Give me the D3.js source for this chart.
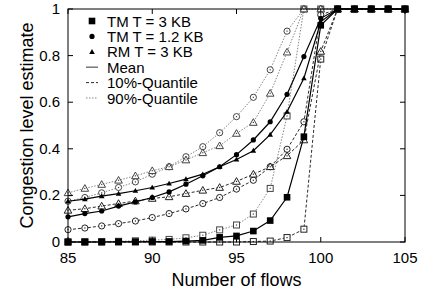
<!DOCTYPE html>
<html lang="en">
<head>
  <meta charset="UTF-8">
  <title>Congestion level estimate</title>
  <script src="https://cdnjs.cloudflare.com/ajax/libs/d3/7.6.1/d3.min.js"></script>
  <style>
    body { margin: 0; background: #fff; }
    svg text { font-family: "Liberation Sans", Arial, sans-serif; fill: #000; }
    .tick-label { font-size: 15px; }
    .title { font-size: 18px; }
    .legend text { font-size: 15px; }
  </style>
</head>
<body>
<div id="wrapper"></div>
<script>
// x values (number of flows)
const flows = [85,86,87,88,89,90,91,92,93,94,95,96,97,98,99,100,101,102,103,104,105];
const xTicks = [85, 90, 95, 100, 105];
const yTicks = [0, 0.2, 0.4, 0.6, 0.8, 1];

// TM T = 3 KB
const tm3Mean = [0,0,0,0.001,0.001,0.002,0.002,0.004,0.007,0.02,0.026,0.047,0.092,0.192,0.452,0.93,1,1,1,1,1];
const tm3Q10  = [0,0,0,0,0,0,0,0,0,0,0,0.002,0.004,0.019,0.055,0.785,1,1,1,1,1];
const tm3Q90  = [0,0.001,0.002,0.003,0.005,0.008,0.011,0.018,0.029,0.052,0.073,0.12,0.23,0.541,1,1,1,1,1,1,1];
// TM T = 1.2 KB
const tm12Mean = [0.108,0.122,0.133,0.154,0.172,0.191,0.215,0.248,0.284,0.323,0.375,0.438,0.516,0.634,0.796,0.96,1,1,1,1,1];
const tm12Q10  = [0.053,0.06,0.069,0.079,0.09,0.105,0.122,0.142,0.165,0.191,0.227,0.265,0.323,0.398,0.516,0.975,1,1,1,1,1];
const tm12Q90  = [0.175,0.191,0.211,0.234,0.258,0.291,0.323,0.366,0.409,0.469,0.538,0.621,0.739,0.905,1,1,1,1,1,1,1];
// RM T = 3 KB
const rm3Mean = [0.175,0.184,0.197,0.208,0.22,0.234,0.251,0.27,0.291,0.323,0.354,0.392,0.461,0.559,0.703,0.945,1,1,1,1,1];
const rm3Q10  = [0.136,0.143,0.154,0.165,0.176,0.187,0.194,0.208,0.222,0.234,0.26,0.291,0.323,0.37,0.438,0.818,1,1,1,1,1];
const rm3Q90  = [0.211,0.23,0.247,0.265,0.284,0.306,0.323,0.352,0.383,0.413,0.466,0.513,0.638,0.815,1,1,1,1,1,1,1];

const legendConfigs = ["TM T = 3 KB", "TM T = 1.2 KB", "RM T = 3 KB"];
const legendStats = ["Mean", "10%-Quantile", "90%-Quantile"];

const W = 421, H = 295;
const margin = {top: 9, right: 16, bottom: 53, left: 68};

const svg = d3.select("#wrapper").append("svg")
  .attr("width", W).attr("height", H);

const x = d3.scaleLinear().domain([85, 105]).range([margin.left, W - margin.right]);
const y = d3.scaleLinear().domain([0, 1]).range([H - margin.bottom, margin.top]);

const lineStyles = {
  mean: {stroke: "#000", width: 1.2, dash: null},
  q10:  {stroke: "#111", width: 0.9, dash: "3,2"},
  q90:  {stroke: "#666", width: 0.8, dash: "1.5,1.5"}
};

const series = [
  {vals: tm3Q90, shape: "square", stat: "q90"},
  {vals: tm12Q90, shape: "circle", stat: "q90"},
  {vals: rm3Q90, shape: "triangle", stat: "q90"},
  {vals: tm3Q10, shape: "square", stat: "q10"},
  {vals: tm12Q10, shape: "circle", stat: "q10"},
  {vals: rm3Q10, shape: "triangle", stat: "q10"},
  {vals: rm3Mean, shape: "triangle", stat: "mean"},
  {vals: tm12Mean, shape: "circle", stat: "mean"},
  {vals: tm3Mean, shape: "square", stat: "mean"}
];

function drawMarker(g, shape, cx, cy, filled, color) {
  let m;
  if (shape === "square") {
    const s = filled ? 6.6 : 6;
    m = g.append("rect").attr("x", cx - s/2).attr("y", cy - s/2).attr("width", s).attr("height", s);
  } else if (shape === "circle") {
    const r = filled ? 2.6 : 3.1;
    m = g.append("circle").attr("cx", cx).attr("cy", cy).attr("r", r);
  } else {
    const s = filled ? 2.8 : 3.8;
    m = g.append("path").attr("d", `M${cx},${cy - s}L${cx + s},${cy + s*0.75}L${cx - s},${cy + s*0.75}Z`);
  }
  if (filled) {
    m.attr("fill", "#000").attr("stroke", "none");
  } else {
    m.attr("fill", "#fff").attr("stroke", color).attr("stroke-width", 1);
    g.append("rect").attr("x", cx - 0.6).attr("y", cy - 0.6).attr("width", 1.2).attr("height", 1.2)
      .attr("fill", color);
  }
}

const plot = svg.append("g");
const line = d3.line().x((d, i) => x(flows[i])).y(d => y(d));

series.forEach(s => {
  const st = lineStyles[s.stat];
  const g = plot.append("g");
  g.append("path").datum(s.vals)
    .attr("d", line)
    .attr("fill", "none")
    .attr("stroke", st.stroke)
    .attr("stroke-width", st.width)
    .attr("stroke-dasharray", st.dash);
  s.vals.forEach((v, i) => {
    drawMarker(g, s.shape, x(flows[i]), y(v), s.stat === "mean", s.stat === "q90" ? "#444" : "#222");
  });
});

// frame and inward ticks (mirrored)
const x0 = x.range()[0], x1 = x.range()[1], y0 = y.range()[0], y1 = y.range()[1];
svg.append("rect").attr("x", x0).attr("y", y1).attr("width", x1 - x0).attr("height", y0 - y1)
  .attr("fill", "none").attr("stroke", "#000").attr("stroke-width", 1);

const ticks = svg.append("g").attr("stroke", "#000").attr("stroke-width", 1);
xTicks.forEach(t => {
  ticks.append("line").attr("x1", x(t)).attr("x2", x(t)).attr("y1", y0).attr("y2", y0 - 5);
  ticks.append("line").attr("x1", x(t)).attr("x2", x(t)).attr("y1", y1).attr("y2", y1 + 5);
});
yTicks.forEach(t => {
  ticks.append("line").attr("x1", x0).attr("x2", x0 + 5).attr("y1", y(t)).attr("y2", y(t));
  ticks.append("line").attr("x1", x1).attr("x2", x1 - 5).attr("y1", y(t)).attr("y2", y(t));
});

svg.append("g").selectAll("text").data(xTicks).enter().append("text")
  .attr("class", "tick-label")
  .attr("x", d => x(d)).attr("y", y0 + 21)
  .attr("text-anchor", "middle")
  .text(d => d);

svg.append("g").selectAll("text").data(yTicks).enter().append("text")
  .attr("class", "tick-label")
  .attr("x", x0 - 8).attr("y", d => y(d) + 5)
  .attr("text-anchor", "end")
  .text(d => d);

svg.append("text").attr("class", "title")
  .attr("x", (x0 + x1) / 2).attr("y", 286)
  .attr("text-anchor", "middle")
  .text("Number of flows");

svg.append("text").attr("class", "title")
  .attr("transform", `translate(33,${(y0 + y1) / 2}) rotate(-90)`)
  .attr("text-anchor", "middle")
  .text("Congestion level estimate");

// legend
const legend = svg.append("g").attr("class", "legend");
const shapes = ["square", "circle", "triangle"];
const statKeys = ["mean", "q10", "q90"];
const rowH = 15.4, ly0 = 21;
legendConfigs.forEach((label, i) => {
  const cy = ly0 + i * rowH;
  drawMarker(legend, shapes[i], 92, cy, true, "#000");
  legend.append("text").attr("x", 107).attr("y", cy + 5.5).text(label);
});
legendStats.forEach((label, i) => {
  const cy = ly0 + (i + 3) * rowH;
  const st = lineStyles[statKeys[i]];
  legend.append("line").attr("x1", 86).attr("x2", 98).attr("y1", cy).attr("y2", cy)
    .attr("stroke", i === 0 ? "#777" : st.stroke)
    .attr("stroke-width", i === 0 ? 1.5 : st.width)
    .attr("stroke-dasharray", st.dash);
  legend.append("text").attr("x", 107).attr("y", cy + 5.5).text(label);
});
</script>
</body>
</html>
